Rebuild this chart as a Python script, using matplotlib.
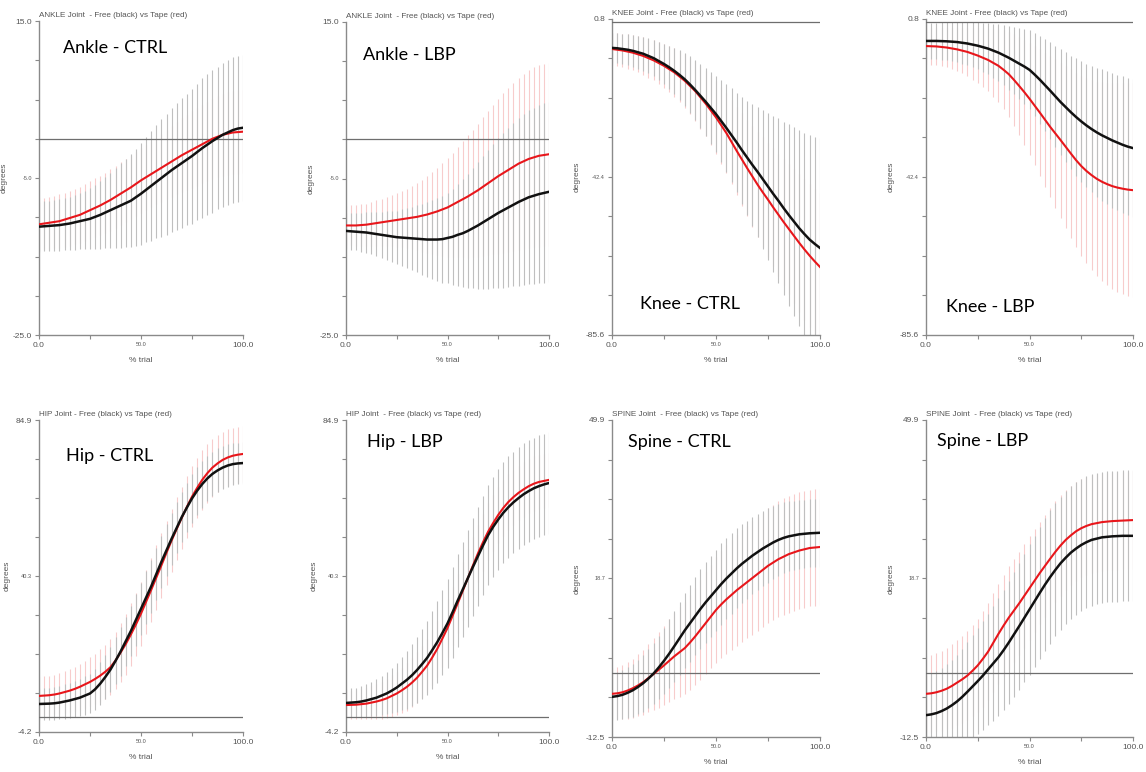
import numpy as np
import matplotlib.pyplot as plt

# normalised trial time (%), one sample every 2.5 %
pct = np.linspace(0, 100, 41)

# ---- ankle ----
ankle_ctrl_free = [-11.2, -11.15, -11.1, -11.05, -11.0, -10.9, -10.8, -10.65, -10.5, -10.35,
                   -10.2, -9.95, -9.7, -9.4, -9.1, -8.8, -8.5, -8.2, -7.9, -7.45,
                   -7.0, -6.5, -6.0, -5.5, -5.0, -4.5, -4.0, -3.55, -3.1, -2.65,
                   -2.2, -1.7, -1.2, -0.75, -0.3, 0.1, 0.5, 0.8, 1.1, 1.3, 1.4]
ankle_ctrl_free_sd = [3.2, 3.2, 3.2, 3.2, 3.3, 3.3, 3.4, 3.5, 3.6, 3.7,
                      3.9, 4.1, 4.3, 4.5, 4.8, 5.1, 5.4, 5.6, 5.9, 6.2,
                      6.5, 6.7, 7.0, 7.2, 7.5, 7.7, 7.9, 8.1, 8.3, 8.4,
                      8.6, 8.7, 8.9, 9.0, 9.1, 9.1, 9.2, 9.2, 9.3, 9.3, 9.3]
ankle_ctrl_tape = [-10.9, -10.8, -10.7, -10.6, -10.5, -10.3, -10.1, -9.9, -9.7, -9.4,
                   -9.1, -8.8, -8.5, -8.15, -7.8, -7.4, -7.0, -6.6, -6.2, -5.75,
                   -5.3, -4.9, -4.5, -4.1, -3.7, -3.3, -2.9, -2.5, -2.1, -1.75,
                   -1.4, -1.05, -0.7, -0.35, 0.0, 0.25, 0.5, 0.65, 0.8, 0.85, 0.9]
ankle_ctrl_tape_sd = [3.3, 3.3, 3.3, 3.35, 3.4, 3.45, 3.5, 3.55, 3.6, 3.65,
                      3.7, 3.75, 3.8, 3.85, 3.9, 3.95, 4.0, 4.0, 4.0, 4.05,
                      4.1, 4.15, 4.2, 4.25, 4.3, 4.4, 4.5, 4.6, 4.7, 4.8,
                      4.9, 4.95, 5.0, 5.05, 5.1, 5.15, 5.2, 5.25, 5.3, 5.3, 5.3]

ankle_lbp_free = [-11.7, -11.75, -11.8, -11.85, -11.9, -12.0, -12.1, -12.2, -12.3, -12.4,
                  -12.5, -12.55, -12.6, -12.65, -12.7, -12.75, -12.8, -12.8, -12.8, -12.75,
                  -12.6, -12.45, -12.2, -12.0, -11.7, -11.35, -11.0, -10.6, -10.2, -9.8,
                  -9.4, -9.05, -8.7, -8.35, -8.0, -7.7, -7.4, -7.2, -7.0, -6.85, -6.7]
ankle_lbp_free_sd = [2.3, 2.35, 2.4, 2.5, 2.6, 2.7, 2.8, 2.95, 3.1, 3.25,
                     3.4, 3.6, 3.8, 4.05, 4.3, 4.55, 4.8, 5.05, 5.3, 5.55,
                     5.8, 6.15, 6.5, 6.9, 7.3, 7.7, 8.1, 8.5, 8.9, 9.25,
                     9.6, 9.9, 10.2, 10.45, 10.7, 10.9, 11.1, 11.25, 11.4, 11.45, 11.5]
ankle_lbp_tape = [-11.0, -11.0, -11.0, -10.95, -10.9, -10.8, -10.7, -10.6, -10.5, -10.4,
                  -10.3, -10.2, -10.1, -10.0, -9.9, -9.75, -9.6, -9.4, -9.2, -8.95,
                  -8.7, -8.35, -8.0, -7.65, -7.3, -6.9, -6.5, -6.05, -5.6, -5.15,
                  -4.7, -4.3, -3.9, -3.5, -3.1, -2.8, -2.5, -2.3, -2.1, -2.0, -1.9]
ankle_lbp_tape_sd = [2.5, 2.55, 2.6, 2.65, 2.7, 2.8, 2.9, 3.0, 3.1, 3.25,
                     3.4, 3.6, 3.8, 4.05, 4.3, 4.6, 4.9, 5.25, 5.6, 5.95,
                     6.3, 6.65, 7.0, 7.4, 7.8, 8.15, 8.5, 8.85, 9.2, 9.55,
                     9.9, 10.2, 10.5, 10.75, 11.0, 11.2, 11.4, 11.5, 11.6, 11.65, 11.7]

# ---- knee ----
knee_ctrl_free = [-7.1, -7.2, -7.4, -7.6, -7.9, -8.3, -8.7, -9.3, -9.9, -10.7,
                  -11.5, -12.4, -13.4, -14.5, -15.7, -17.1, -18.6, -20.2, -21.8, -23.5,
                  -25.2, -27.1, -29.0, -31.0, -33.0, -35.1, -37.1, -39.1, -41.0, -43.0,
                  -45.0, -47.0, -48.9, -50.9, -52.8, -54.6, -56.4, -58.0, -59.5, -60.7, -61.8]
knee_ctrl_free_sd = [4.0, 4.05, 4.1, 4.2, 4.3, 4.45, 4.6, 4.8, 5.0, 5.3,
                     5.6, 5.95, 6.3, 6.75, 7.2, 7.7, 8.2, 8.75, 9.3, 9.9,
                     10.5, 11.25, 12.0, 12.8, 13.6, 14.6, 15.6, 16.7, 17.8, 19.0,
                     20.2, 21.35, 22.5, 23.65, 24.8, 25.8, 26.8, 27.65, 28.5, 29.25, 30.0]
knee_ctrl_tape = [-7.4, -7.6, -7.8, -8.1, -8.4, -8.85, -9.3, -9.9, -10.5, -11.25,
                  -12.0, -12.9, -13.8, -14.95, -16.1, -17.5, -18.9, -20.6, -22.3, -24.2,
                  -26.1, -28.25, -30.4, -32.85, -35.3, -37.65, -40.0, -42.25, -44.5, -46.6,
                  -48.6, -50.7, -52.7, -54.7, -56.6, -58.5, -60.4, -62.2, -63.9, -65.5, -67.0]
knee_ctrl_tape_sd = [4.5, 4.55, 4.6, 4.7, 4.8, 4.95, 5.1, 5.3, 5.5, 5.75,
                     6.0, 6.3, 6.6, 6.95, 7.3, 7.7, 8.1, 8.55, 9.0, 9.5,
                     10.0, 10.5, 11.0, 11.55, 12.1, 12.65, 13.2, 13.8, 14.4, 15.0,
                     15.6, 16.15, 16.7, 17.25, 17.8, 18.3, 18.8, 19.2, 19.6, 19.9, 20.2]

knee_lbp_free = [-5.2, -5.2, -5.2, -5.25, -5.3, -5.4, -5.5, -5.7, -5.9, -6.2,
                 -6.5, -6.9, -7.3, -7.85, -8.4, -9.1, -9.8, -10.6, -11.4, -12.2,
                 -13.1, -14.4, -15.8, -17.3, -18.8, -20.35, -21.9, -23.3, -24.7, -26.0,
                 -27.2, -28.3, -29.3, -30.2, -31.0, -31.7, -32.4, -33.0, -33.6, -34.1, -34.5]
knee_lbp_free_sd = [4.9, 4.95, 5.0, 5.1, 5.2, 5.35, 5.5, 5.7, 5.9, 6.15,
                    6.4, 6.7, 7.0, 7.4, 7.8, 8.25, 8.7, 9.2, 9.7, 10.25,
                    10.8, 11.4, 12.0, 12.6, 13.2, 13.8, 14.4, 14.95, 15.5, 16.0,
                    16.5, 16.9, 17.3, 17.65, 18.0, 18.2, 18.4, 18.55, 18.7, 18.75, 18.8]
knee_lbp_tape = [-6.6, -6.65, -6.7, -6.85, -7.0, -7.25, -7.5, -7.85, -8.2, -8.7,
                 -9.2, -9.8, -10.4, -11.2, -12.0, -13.1, -14.3, -15.85, -17.5, -19.2,
                 -21.0, -22.9, -24.8, -26.75, -28.7, -30.5, -32.3, -34.15, -36.0, -37.8,
                 -39.4, -40.75, -41.9, -42.9, -43.7, -44.35, -44.9, -45.3, -45.6, -45.85, -46.0]
knee_lbp_tape_sd = [5.0, 5.05, 5.1, 5.25, 5.4, 5.65, 5.9, 6.25, 6.6, 7.05,
                    7.5, 8.05, 8.6, 9.3, 10.0, 10.8, 11.6, 12.5, 13.4, 14.35,
                    15.3, 16.3, 17.3, 18.3, 19.3, 20.25, 21.2, 22.1, 23.0, 23.8,
                    24.6, 25.3, 26.0, 26.6, 27.2, 27.7, 28.2, 28.55, 28.9, 29.1, 29.3]

# ---- hip ----
hip_ctrl_free = [3.8, 3.85, 3.9, 4.0, 4.2, 4.5, 4.8, 5.2, 5.6, 6.2,
                 6.8, 8.0, 9.6, 11.5, 13.6, 16.1, 18.8, 21.7, 24.6, 27.8,
                 31.0, 34.2, 37.4, 40.9, 44.4, 47.7, 51.0, 54.1, 57.2, 59.9,
                 62.5, 64.7, 66.6, 68.2, 69.5, 70.5, 71.3, 71.9, 72.3, 72.5, 72.6]
hip_ctrl_free_sd = [4.5, 4.55, 4.6, 4.7, 4.8, 4.9, 5.0, 5.15, 5.3, 5.5,
                    5.7, 5.9, 6.1, 6.3, 6.5, 6.7, 6.9, 7.05, 7.2, 7.3,
                    7.4, 7.45, 7.5, 7.5, 7.5, 7.45, 7.4, 7.3, 7.2, 7.1,
                    7.0, 6.85, 6.7, 6.55, 6.4, 6.3, 6.2, 6.1, 6.0, 5.95, 5.9]
hip_ctrl_tape = [6.1, 6.2, 6.3, 6.5, 6.8, 7.2, 7.6, 8.1, 8.7, 9.4,
                 10.1, 10.95, 11.9, 13.0, 14.3, 16.2, 18.5, 20.9, 23.6, 26.5,
                 29.6, 33.0, 36.4, 39.9, 43.4, 47.0, 50.5, 53.8, 57.0, 60.1,
                 63.0, 65.5, 67.8, 69.7, 71.3, 72.5, 73.5, 74.2, 74.7, 75.0, 75.2]
hip_ctrl_tape_sd = [5.5, 5.55, 5.6, 5.7, 5.8, 5.95, 6.1, 6.3, 6.5, 6.75,
                    7.0, 7.25, 7.5, 7.75, 8.0, 8.25, 8.5, 8.7, 8.9, 9.0,
                    9.1, 9.15, 9.2, 9.2, 9.2, 9.15, 9.1, 9.0, 8.9, 8.8,
                    8.7, 8.6, 8.5, 8.4, 8.3, 8.2, 8.1, 8.05, 8.0, 8.0, 8.0]

hip_lbp_free = [4.1, 4.2, 4.3, 4.5, 4.8, 5.2, 5.6, 6.2, 6.8, 7.6,
                8.5, 9.6, 10.7, 12.0, 13.5, 15.2, 17.0, 19.2, 21.5, 24.1,
                26.8, 30.0, 33.3, 36.5, 39.7, 42.9, 46.0, 49.1, 52.0, 54.4,
                56.5, 58.4, 60.0, 61.4, 62.6, 63.7, 64.6, 65.4, 66.0, 66.5, 66.9]
hip_lbp_free_sd = [4.0, 4.1, 4.2, 4.4, 4.6, 4.9, 5.2, 5.6, 6.0, 6.5,
                   7.0, 7.6, 8.2, 8.8, 9.4, 10.0, 10.6, 11.15, 11.7, 12.15,
                   12.6, 12.95, 13.3, 13.55, 13.8, 13.95, 14.1, 14.2, 14.3, 14.35,
                   14.4, 14.45, 14.5, 14.5, 14.5, 14.5, 14.5, 14.5, 14.5, 14.5, 14.5]
hip_lbp_tape = [3.5, 3.55, 3.6, 3.75, 3.9, 4.2, 4.5, 4.9, 5.4, 6.1,
                6.8, 7.7, 8.7, 9.9, 11.3, 13.0, 14.8, 17.1, 19.6, 22.5,
                25.5, 29.0, 32.5, 36.1, 39.7, 43.3, 46.8, 50.0, 53.0, 55.5,
                57.8, 59.8, 61.5, 62.9, 64.1, 65.1, 66.0, 66.7, 67.2, 67.5, 67.8]
hip_lbp_tape_sd = [4.0, 4.1, 4.2, 4.35, 4.5, 4.75, 5.0, 5.3, 5.6, 5.9,
                   6.2, 6.5, 6.8, 7.05, 7.3, 7.5, 7.7, 7.85, 8.0, 8.1,
                   8.2, 8.25, 8.3, 8.3, 8.3, 8.25, 8.2, 8.15, 8.1, 8.05,
                   8.0, 7.95, 7.9, 7.85, 7.8, 7.8, 7.8, 7.8, 7.8, 7.8, 7.8]

# ---- spine ----
spine_ctrl_free = [-4.6, -4.45, -4.2, -3.8, -3.3, -2.65, -1.9, -1.0, 0.0, 1.2,
                   2.5, 3.9, 5.4, 6.95, 8.5, 9.9, 11.3, 12.7, 14.0, 15.2,
                   16.4, 17.6, 18.7, 19.7, 20.7, 21.6, 22.4, 23.2, 23.9, 24.6,
                   25.2, 25.8, 26.3, 26.7, 27.0, 27.2, 27.4, 27.5, 27.6, 27.65, 27.7]
spine_ctrl_free_sd = [4.6, 4.7, 4.8, 5.0, 5.2, 5.4, 5.6, 5.8, 6.0, 6.25,
                      6.5, 6.75, 7.0, 7.2, 7.4, 7.55, 7.7, 7.8, 7.9, 7.95,
                      8.0, 8.0, 8.0, 7.95, 7.9, 7.8, 7.7, 7.6, 7.5, 7.4,
                      7.3, 7.2, 7.1, 7.0, 6.9, 6.85, 6.8, 6.75, 6.7, 6.7, 6.7]
spine_ctrl_tape = [-4.0, -3.9, -3.7, -3.35, -2.9, -2.35, -1.7, -0.9, -0.1, 0.75,
                   1.6, 2.5, 3.4, 4.2, 5.0, 6.1, 7.3, 8.6, 9.9, 11.2,
                   12.5, 13.6, 14.6, 15.5, 16.4, 17.2, 18.0, 18.8, 19.6, 20.4,
                   21.2, 21.85, 22.5, 23.0, 23.5, 23.85, 24.2, 24.45, 24.7, 24.8, 24.9]
spine_ctrl_tape_sd = [5.0, 5.15, 5.3, 5.55, 5.8, 6.1, 6.4, 6.75, 7.1, 7.45,
                      7.8, 8.15, 8.5, 8.8, 9.1, 9.35, 9.6, 9.8, 10.0, 10.2,
                      10.4, 10.55, 10.7, 10.8, 10.9, 11.0, 11.1, 11.15, 11.2, 11.25,
                      11.3, 11.35, 11.4, 11.45, 11.5, 11.5, 11.5, 11.5, 11.5, 11.5, 11.5]

spine_lbp_free = [-8.2, -8.05, -7.8, -7.4, -6.9, -6.25, -5.5, -4.6, -3.6, -2.55,
                  -1.5, -0.4, 0.8, 2.0, 3.2, 4.6, 6.1, 7.7, 9.3, 10.95,
                  12.6, 14.25, 15.9, 17.5, 19.0, 20.4, 21.7, 22.8, 23.8, 24.6,
                  25.3, 25.85, 26.3, 26.55, 26.8, 26.9, 27.0, 27.05, 27.1, 27.1, 27.1]
spine_lbp_free_sd = [8.0, 8.15, 8.3, 8.5, 8.7, 8.95, 9.2, 9.5, 9.8, 10.1,
                     10.4, 10.7, 11.0, 11.3, 11.6, 11.85, 12.1, 12.3, 12.5, 12.65,
                     12.8, 12.9, 13.0, 13.05, 13.1, 13.1, 13.1, 13.1, 13.1, 13.05,
                     13.0, 13.0, 13.0, 12.95, 12.9, 12.9, 12.9, 12.9, 12.9, 12.9, 12.9]
spine_lbp_tape = [-4.0, -3.9, -3.7, -3.4, -3.0, -2.45, -1.8, -1.15, -0.4, 0.55,
                  1.6, 2.9, 4.3, 6.05, 7.8, 9.45, 11.0, 12.4, 13.8, 15.3,
                  16.8, 18.3, 19.8, 21.2, 22.6, 23.95, 25.2, 26.3, 27.2, 28.0,
                  28.6, 29.05, 29.4, 29.6, 29.8, 29.9, 30.0, 30.05, 30.1, 30.15, 30.2]
spine_lbp_tape_sd = [7.5, 7.6, 7.7, 7.85, 8.0, 8.2, 8.4, 8.6, 8.8, 9.0,
                     9.2, 9.4, 9.6, 9.75, 9.9, 10.0, 10.1, 10.15, 10.2, 10.2,
                     10.2, 10.15, 10.1, 10.05, 10.0, 9.95, 9.9, 9.85, 9.8, 9.75,
                     9.7, 9.7, 9.7, 9.65, 9.6, 9.6, 9.6, 9.6, 9.6, 9.6, 9.6]

# y range of each joint (bottom, top) and the three labelled ticks
ankle_range = (-25.0, 15.0)
knee_range = (-85.6, 0.8)
hip_range = (-4.2, 84.9)
spine_range = (-12.5, 49.9)
ankle_labels = ("-25.0", "-5.0", "15.0")
knee_labels = ("-85.6", "-42.4", "0.8")
hip_labels = ("-4.2", "40.3", "84.9")
spine_labels = ("-12.5", "18.7", "49.9")

panels = [
    ("ANKLE Joint  - Free (black) vs Tape (red)", "Ankle - CTRL", ankle_range, ankle_labels,
     ankle_ctrl_free, ankle_ctrl_free_sd, ankle_ctrl_tape, ankle_ctrl_tape_sd),
    ("ANKLE Joint  - Free (black) vs Tape (red)", "Ankle - LBP", ankle_range, ankle_labels,
     ankle_lbp_free, ankle_lbp_free_sd, ankle_lbp_tape, ankle_lbp_tape_sd),
    ("KNEE Joint - Free (black) vs Tape (red)", "Knee - CTRL", knee_range, knee_labels,
     knee_ctrl_free, knee_ctrl_free_sd, knee_ctrl_tape, knee_ctrl_tape_sd),
    ("KNEE Joint - Free (black) vs Tape (red)", "Knee - LBP", knee_range, knee_labels,
     knee_lbp_free, knee_lbp_free_sd, knee_lbp_tape, knee_lbp_tape_sd),
    ("HIP Joint - Free (black) vs Tape (red)", "Hip - CTRL", hip_range, hip_labels,
     hip_ctrl_free, hip_ctrl_free_sd, hip_ctrl_tape, hip_ctrl_tape_sd),
    ("HIP Joint  - Free (black) vs Tape (red)", "Hip - LBP", hip_range, hip_labels,
     hip_lbp_free, hip_lbp_free_sd, hip_lbp_tape, hip_lbp_tape_sd),
    ("SPINE Joint  - Free (black) vs Tape (red)", "Spine - CTRL", spine_range, spine_labels,
     spine_ctrl_free, spine_ctrl_free_sd, spine_ctrl_tape, spine_ctrl_tape_sd),
    ("SPINE Joint  - Free (black) vs Tape (red)", "Spine - LBP", spine_range, spine_labels,
     spine_lbp_free, spine_lbp_free_sd, spine_lbp_tape, spine_lbp_tape_sd),
]

# axes boxes in pixels: left, right, top, bottom
boxes = [(39, 243, 21, 335), (346, 549, 22, 335), (612, 820, 19, 335), (926, 1133, 19, 335),
         (39, 243, 420, 732), (346, 549, 420, 732), (612, 820, 420, 737), (926, 1133, 420, 737)]
# where the condition label sits (pixels, left / vertical centre)
label_pos = [(63, 48), (363, 55), (640, 304), (946, 307),
             (66, 456), (367, 442), (628, 442), (937, 441)]

W, H = 1146, 772
fig = plt.figure(figsize=(W / 100, H / 100), dpi=100)
plt.rcParams['font.family'] = ['Liberation Sans', 'DejaVu Sans']

axis_col = '#8a8a8a'
text_col = '#555555'

for (title, label, (y0, y1), ylabels, free, free_sd, tape, tape_sd), (l, r, t, b), (lx, ly) in zip(
        panels, boxes, label_pos):
    ax = fig.add_axes([l / W, 1 - b / H, (r - l) / W, (b - t) / H])
    free = np.array(free)
    tape = np.array(tape)
    free_sd = np.array(free_sd)
    tape_sd = np.array(tape_sd)

    # SD bars first, then the means on top
    ax.vlines(pct, tape - tape_sd, tape + tape_sd, color='#f7cccc', lw=0.8, zorder=1)
    ax.vlines(pct, free - free_sd, free + free_sd, color='#bfbfbf', lw=0.8, zorder=2)
    ax.plot([0, 100], [0, 0], color='#6e6e6e', lw=0.9, zorder=3)
    ax.plot(pct, tape, color='#e8161b', lw=1.5, zorder=4)
    ax.plot(pct, free, color='#111111', lw=1.8, zorder=5)

    ax.set_xlim(0, 100)
    ax.set_ylim(y0, y1)
    for s in ('top', 'right'):
        ax.spines[s].set_visible(False)
    for s in ('left', 'bottom'):
        ax.spines[s].set_color(axis_col)
        ax.spines[s].set_linewidth(1.0)

    ax.set_yticks(np.linspace(y0, y1, 9))
    ax.set_yticklabels([ylabels[0]] + [''] * 3 + [ylabels[1]] + [''] * 3 + [ylabels[2]])
    ax.set_xticks([0, 25, 50, 75, 100])
    ax.set_xticklabels(['0.0', '', '50.0', '', '100.0'])
    ax.tick_params(colors=axis_col, labelcolor=text_col, labelsize=6, length=3, width=0.8,
                   pad=2)
    ax.get_yticklabels()[4].set_fontsize(4)
    ax.get_xticklabels()[2].set_fontsize(4)

    ax.set_xlabel('% trial', fontsize=6, color=text_col, labelpad=6)
    ax.set_ylabel('degrees', fontsize=6, color=text_col, labelpad=4)
    ax.text(0.0, 1.005, title, transform=ax.transAxes, fontsize=5.9, color=text_col,
            ha='left', va='bottom')

    fig.text(lx / W, 1 - ly / H, label, fontsize=13, family=['Lato', 'DejaVu Sans'],
             color='black', ha='left', va='center')

fig.savefig('out.png', dpi=100)
